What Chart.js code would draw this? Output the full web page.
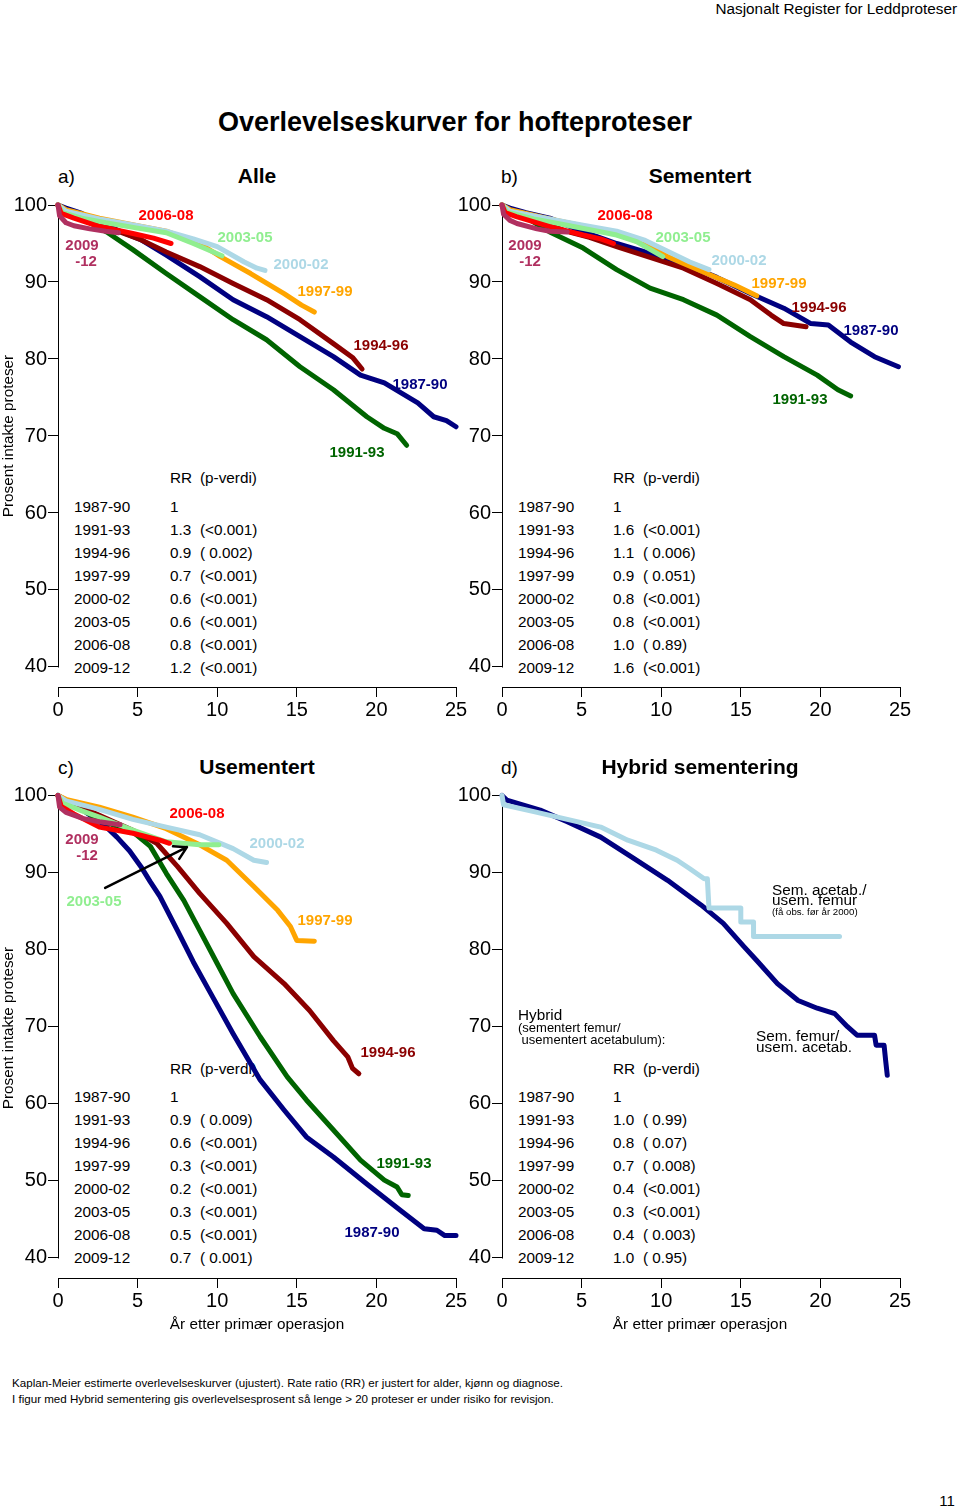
<!DOCTYPE html>
<html><head><meta charset="utf-8">
<script src="https://cdn.jsdelivr.net/npm/chart.js@4/dist/chart.umd.min.js"></script>
<style>
html,body{margin:0;padding:0;background:#fff}
body{width:960px;height:1508px;position:relative;overflow:hidden;font-family:"Liberation Sans",Arial,Helvetica,sans-serif}
canvas{position:absolute;z-index:1}
.t{position:absolute;white-space:pre;line-height:1;color:#000;z-index:2}
.t.under{z-index:0}
</style></head><body>
<script>
// ---------- data ----------
const X_TICKS = [0, 5, 10, 15, 20, 25];
const Y_TICKS = [40, 50, 60, 70, 80, 90, 100];
const PERIODS = ['1987-90','1991-93','1994-96','1997-99','2000-02','2003-05','2006-08','2009-12'];
const COLORS  = ['#000080','#006400','#8B0000','#FFA500','#ADD8E6','#90EE90','#FF0000','#B03060'];

// a) Alle
const A_8790 = [[0,100],[0.5,99.6],[1.5,98.9],[2.6,97.8],[4,96.5],[5.2,95.5],[6.8,93.5],[8.9,90.7],[11,87.7],[13.1,85.5],[15.2,82.9],[17.3,80.3],[19,77.9],[20.5,76.9],[22.6,74.3],[23.6,72.5],[24.4,72.0],[25,71.2]];
const A_9193 = [[0,100],[0.5,99.3],[1.5,98.3],[3.06,96.5],[4.7,94.2],[6.8,91.1],[8.9,88.1],[11,85.1],[13.1,82.5],[15.2,79],[17.3,76],[19.4,72.5],[20.5,71],[21.3,70.3],[21.9,68.8]];
const A_9496 = [[0,100],[0.5,99.3],[2,98],[3.5,96.8],[5.2,95.5],[6.8,93.9],[8.9,92],[11,89.8],[13.1,87.7],[15.2,85.1],[17.3,82],[18.5,80.2],[19.1,78.7]];
const A_9799 = [[0,100],[0.5,99.4],[2.6,98.3],[5,97.3],[6.8,96.6],[8.9,95],[10.2,93.3],[12.1,91.1],[14.2,88.5],[15.3,87],[16.1,86.1]];
const A_0002 = [[0,100],[0.5,99.2],[2.6,98.2],[5,97.3],[6.8,96.6],[8.5,95.6],[10,94.6],[11.7,92.6],[12.5,91.8],[13,91.5]];
const A_0305 = [[0,100],[0.3,99.0],[1.5,98.3],[3,97.7],[5,97],[6.8,96.4],[8.5,95],[10.3,93.4]];
const A_0608 = [[0,100],[0.2,98.9],[1,98.3],[2.6,97.2],[4.7,96.3],[6,95.7],[7.1,95.0]];
const A_0912 = [[0,100],[0.1,98.6],[0.5,97.7],[1,97.3],[2,96.9],[3,96.6],[3.8,96.4]];

// b) Sementert
const B_8790 = [[0,100],[0.5,99.6],[1.5,99],[3,98.3],[5,96.6],[7.2,95],[9.3,93.7],[11.4,92.4],[13.5,90.6],[15.6,88.5],[17.7,86.6],[19.4,84.6],[20.5,84.4],[21.9,82.2],[23.4,80.3],[24.9,79.0]];
const B_9193 = [[0,100],[0.5,99.3],[1.5,98.4],[3,96.5],[5.1,94.4],[7.2,91.6],[9.3,89.2],[11.4,87.7],[13.5,85.7],[15.6,82.9],[17.7,80.3],[19.8,77.9],[21.1,76.0],[21.9,75.2]];
const B_9496 = [[0,100],[0.5,99.3],[2,98.2],[4,96.6],[5.5,95.8],[7.2,94.6],[9.3,93.2],[11.4,91.8],[13.5,89.8],[15.6,87.7],[16.9,85.7],[17.7,84.6],[19.1,84.2]];
const B_9799 = [[0,100],[0.5,99.4],[3,98.2],[5,97.3],[7.2,96.3],[9.3,94.6],[10.4,93.3],[13.1,90.9],[14.6,89.6],[16,88.2]];
const B_0002 = [[0,100],[0.5,99.2],[3,98.2],[5,97.4],[7.2,96.6],[9,95.4],[10.4,94.0],[11.8,92.6],[13,91.6]];
const B_0305 = [[0,100],[0.3,99.1],[2,98.2],[4,97.4],[7.2,96.1],[8.5,95.2],[10.1,93.3]];
const B_0608 = [[0,100],[0.2,99],[0.9,98.5],[3,97.2],[5.1,96.1],[6.2,95.6],[7,95.0]];
const B_0912 = [[0,100],[0.1,98.8],[0.5,98],[0.94,97.6],[2.2,96.9],[3,96.6],[4.1,96.5]];

// c) Usementert
const C_8790 = [[0,100],[0.55,99],[1.5,98.2],[2.2,97.2],[3,96],[3.7,94.6],[4.5,92.8],[5.2,90.8],[5.8,88.8],[6.4,86.9],[7.5,82.5],[8.5,78.4],[9.6,74.3],[11,69.1],[12.7,63.1],[14.2,59.2],[15.6,55.7],[17.3,53.1],[19.4,49.6],[21.5,46.2],[23,43.8],[23.8,43.6],[24.3,42.9],[25,42.9]];
const C_9193 = [[0,100],[0.5,99.2],[1.5,98.2],[2.6,96.8],[4.7,95.3],[5.8,93.4],[6.8,89.9],[7.9,86.4],[8.9,82.5],[10,78.2],[11,74.3],[12.7,68.7],[14.4,63.5],[15.6,60.5],[17.3,56.6],[19,52.7],[20.5,50.1],[21.3,49.2],[21.6,48.2],[22,48.1]];
const C_9496 = [[0,100],[0.5,99.4],[2,98],[3.5,96.6],[4.7,95.5],[6.2,93.8],[7.5,90.8],[8.9,87.3],[10.6,83.4],[12.3,79.1],[14.2,75.6],[15.8,72.1],[17.3,68.2],[18.2,66.1],[18.5,64.6],[18.9,63.9]];
const C_9799 = [[0,100],[0.5,99.5],[2.6,98.5],[4.7,97.2],[6.8,95.7],[8.9,93.6],[10.6,91.6],[12.3,88.2],[13.8,85.1],[14.6,83.0],[15,81.2],[16.1,81.1]];
const C_0002 = [[0,100],[0.5,99.3],[2.6,98.2],[4.7,96.9],[6.8,95.9],[8.9,94.9],[11,93.1],[12.3,91.6],[13.1,91.3]];
const C_0305 = [[0,100],[0.3,99],[1.5,98],[2.6,97.2],[4.7,95.5],[6.8,94],[8.9,93.6],[10.1,93.6]];
const C_0608 = [[0,100],[0.2,98.6],[1,97.6],[2.6,95.9],[4.7,95.1],[6.4,94.2],[7,93.8]];
const C_0912 = [[0,100],[0.1,98.5],[0.5,97.8],[1.6,97],[2.6,96.6],[3.9,96.2]];

// d) Hybrid sementering
const D_SEMFEM = [[0,100],[0.3,99.4],[2.4,98.1],[4.1,96.6],[6.2,94.6],[8.3,91.8],[10.4,89],[12.5,85.8],[13.9,83.4],[15.2,80.4],[16,78.6],[17.3,75.6],[18.6,73.4],[19.8,72.4],[20.9,71.7],[21.7,70],[22.3,68.9],[23.4,68.9],[23.5,67.6],[24.0,67.6],[24.1,65.6],[24.2,63.7]];
const D_SEMACE = [[0,100],[0.1,98.8],[2,97.9],[3.9,97],[6.2,95.9],[7.9,94.2],[9.7,92.9],[11,91.6],[11.8,90.5],[12.7,89.2],[12.9,89.2],[13.0,85.4],[15.0,85.4],[15.0,83.6],[15.8,83.6],[15.8,81.7],[21.2,81.7]];
const D_NAMES = ['Sem. femur/usem. acetab.','Sem. acetab./usem. femur'];
const D_COLORS = ['#000080','#ADD8E6'];

// RR tables
const RR_A = ['1','1.3','0.9','0.7','0.6','0.6','0.8','1.2'];
const P_A  = ['','(<0.001)','( 0.002)','(<0.001)','(<0.001)','(<0.001)','(<0.001)','(<0.001)'];
const RR_B = ['1','1.6','1.1','0.9','0.8','0.8','1.0','1.6'];
const P_B  = ['','(<0.001)','( 0.006)','( 0.051)','(<0.001)','(<0.001)','( 0.89)','(<0.001)'];
const RR_C = ['1','0.9','0.6','0.3','0.2','0.3','0.5','0.7'];
const P_C  = ['','( 0.009)','(<0.001)','(<0.001)','(<0.001)','(<0.001)','(<0.001)','( 0.001)'];
const RR_D = ['1','1.0','0.8','0.7','0.4','0.3','0.4','1.0'];
const P_D  = ['','( 0.99)','( 0.07)','( 0.008)','(<0.001)','(<0.001)','( 0.003)','( 0.95)'];

const ARROW_C = [[2.96, 88.0], [8.1, 93.3]];

// ---------- chart ----------
Chart.defaults.font.family = "'Liberation Sans', Arial, Helvetica, sans-serif";
Chart.defaults.color = '#000';

function curveSets(list, names, colors){
  return list.map((pts, i) => ({
    label: names[i],
    data: pts.map(p => ({x: p[0], y: p[1]})),
    borderColor: colors[i], backgroundColor: colors[i],
    borderWidth: 5, pointRadius: 0, tension: 0, fill: false, clip: false,
    borderCapStyle: 'round', borderJoinStyle: 'round',
    order: list.length - i
  }));
}

const yAxisLine = {
  id: 'yAxisLine',
  beforeDatasetsDraw(chart){
    const ys = chart.scales.y, ctx = chart.ctx;
    const x = Math.round(chart.chartArea.left) + 0.5;
    ctx.save(); ctx.strokeStyle = '#000'; ctx.lineWidth = 1;
    ctx.beginPath(); ctx.moveTo(x, Math.round(ys.getPixelForValue(Y_TICKS[0])) + 0.5);
    ctx.lineTo(x, Math.round(ys.getPixelForValue(Y_TICKS[Y_TICKS.length-1])) + 0.5);
    ctx.stroke(); ctx.restore();
  }
};

function arrowPlugin(a){
  return { id: 'arrow', afterDatasetsDraw(chart){
    const xs = chart.scales.x, ys = chart.scales.y, ctx = chart.ctx;
    const x1 = xs.getPixelForValue(a[0][0]), y1 = ys.getPixelForValue(a[0][1]);
    const x2 = xs.getPixelForValue(a[1][0]), y2 = ys.getPixelForValue(a[1][1]);
    const ang = Math.atan2(y2 - y1, x2 - x1), L = 14;
    ctx.save(); ctx.strokeStyle = '#000'; ctx.lineWidth = 2.5; ctx.lineCap = 'round';
    ctx.beginPath(); ctx.moveTo(x1, y1); ctx.lineTo(x2, y2);
    for (const d of [-Math.PI/6, Math.PI/6]) { ctx.moveTo(x2, y2); ctx.lineTo(x2 - L*Math.cos(ang + d), y2 - L*Math.sin(ang + d)); }
    ctx.stroke(); ctx.restore();
  }};
}

function panel(left, top, padTop, datasets, extraPlugins){
  const cv = document.createElement('canvas');
  cv.width = 480; cv.height = 540;
  cv.style.left = left + 'px'; cv.style.top = top + 'px';
  cv.style.width = '480px'; cv.style.height = '540px';
  document.body.appendChild(cv);
  new Chart(cv, {
    type: 'line',
    data: { datasets },
    options: {
      responsive: false, animation: false, devicePixelRatio: 1,
      layout: { padding: { left: 0, top: padTop, right: 24, bottom: 0 } },
      plugins: { legend: { display: false }, tooltip: { enabled: false } },
      scales: {
        x: {
          type: 'linear', min: 0, max: 25,
          afterBuildTicks: s => { s.ticks = X_TICKS.map(v => ({value: v})); },
          afterFit: s => { s.height = 43; },
          grid: { drawOnChartArea: false, drawTicks: true, tickLength: 10, color: '#000', lineWidth: 1 },
          border: { display: true, color: '#000', width: 1 },
          ticks: { color: '#000', font: { size: 20 }, padding: 1, maxRotation: 0, autoSkip: false }
        },
        y: {
          type: 'linear', min: 37.4, max: 100,
          afterBuildTicks: s => { s.ticks = Y_TICKS.map(v => ({value: v})); },
          afterFit: s => { s.width = 58; },
          grid: { drawOnChartArea: false, drawTicks: true, tickLength: 10, color: '#000', lineWidth: 1 },
          border: { display: false },
          ticks: { color: '#000', font: { size: 20 }, padding: 1, autoSkip: false }
        }
      }
    },
    plugins: [yAxisLine].concat(extraPlugins || [])
  });
}

panel(0,   190, 15,   curveSets([A_8790,A_9193,A_9496,A_9799,A_0002,A_0305,A_0608,A_0912], PERIODS, COLORS));
panel(444, 190, 15,   curveSets([B_8790,B_9193,B_9496,B_9799,B_0002,B_0305,B_0608,B_0912], PERIODS, COLORS));
panel(0,   781, 14.5, curveSets([C_8790,C_9193,C_9496,C_9799,C_0002,C_0305,C_0608,C_0912], PERIODS, COLORS), [arrowPlugin(ARROW_C)]);
panel(444, 781, 14.5, curveSets([D_SEMFEM, D_SEMACE], D_NAMES, D_COLORS));

// ---------- text ----------
function T(txt, x, y, o){
  o = o || {};
  const d = document.createElement('div'); d.className = 't' + (o.under ? ' under' : ''); d.textContent = txt;
  const s = d.style; s.left = x + 'px'; s.top = y + 'px';
  s.fontSize = (o.size || 15.3) + 'px';
  if (o.bold) s.fontWeight = 'bold';
  if (o.color) s.color = o.color;
  const ax = o.anchor === 'left' ? '0' : (o.anchor === 'right' ? '-100%' : '-50%');
  s.transform = 'translate(' + ax + ',-50%)' + (o.rot ? ' rotate(' + o.rot + 'deg)' : '');
  document.body.appendChild(d);
}

T('Nasjonalt Register for Leddproteser', 957, 9, {size: 15.3, anchor: 'right'});
T('Overlevelseskurver for hofteproteser', 455, 122, {size: 27, bold: true});

T('a)', 58, 176, {size: 19, anchor: 'left'});
T('Alle', 257, 175, {size: 21, bold: true});
T('b)', 501, 176, {size: 19, anchor: 'left'});
T('Sementert', 700, 175, {size: 21, bold: true});
T('c)', 58, 767, {size: 19, anchor: 'left'});
T('Usementert', 257, 766, {size: 21, bold: true});
T('d)', 501, 767, {size: 19, anchor: 'left'});
T('Hybrid sementering', 700, 766, {size: 21, bold: true});

T('Prosent intakte proteser', 8, 436, {size: 15.3, rot: -90});
T('Prosent intakte proteser', 8, 1028, {size: 15.3, rot: -90});
T('År etter primær operasjon', 257, 1324, {size: 15.3});
T('År etter primær operasjon', 700, 1324, {size: 15.3});

function table(x0, xr, xp, yh, y0, rr, pv){
  const u = {anchor: 'left', under: true};
  T('RR', xr, yh, u);
  T('(p-verdi)', xp, yh, u);
  PERIODS.forEach((p, i) => {
    const y = y0 + 23.05 * i;
    T(p, x0, y, u);
    T(rr[i], xr, y, u);
    if (pv[i]) T(pv[i], xp, y, u);
  });
}
table(74, 170, 200, 478, 506.7, RR_A, P_A);
table(518, 613, 643, 478, 506.7, RR_B, P_B);
table(74, 170, 200, 1068.5, 1096.7, RR_C, P_C);
table(518, 613, 643, 1069, 1096.7, RR_D, P_D);

// curve labels
const LB = {size: 15, bold: true};
function L(txt, x, y, c){ T(txt, x, y, Object.assign({color: c}, LB)); }
// a
L('2006-08', 166, 214, COLORS[6]); L('2003-05', 245, 236, COLORS[5]); L('2000-02', 301, 263, COLORS[4]);
L('1997-99', 325, 290, COLORS[3]); L('1994-96', 381, 344, COLORS[2]); L('1987-90', 420, 383, COLORS[0]);
L('1991-93', 357, 451, COLORS[1]); L('2009', 82, 244, COLORS[7]); L('-12', 86, 260, COLORS[7]);
// b
L('2006-08', 625, 214, COLORS[6]); L('2003-05', 683, 236, COLORS[5]); L('2000-02', 739, 259, COLORS[4]);
L('1997-99', 779, 282, COLORS[3]); L('1994-96', 819, 306, COLORS[2]); L('1987-90', 871, 329, COLORS[0]);
L('1991-93', 800, 398, COLORS[1]); L('2009', 525, 244, COLORS[7]); L('-12', 530, 260, COLORS[7]);
// c
L('2006-08', 197, 812, COLORS[6]); L('2000-02', 277, 842, COLORS[4]); L('1997-99', 325, 919, COLORS[3]);
L('1994-96', 388, 1051, COLORS[2]); L('1991-93', 404, 1162, COLORS[1]); L('1987-90', 372, 1231, COLORS[0]);
L('2003-05', 94, 900, COLORS[5]); L('2009', 82, 838, COLORS[7]); L('-12', 87, 854, COLORS[7]);
// d
T('Sem. acetab./', 772, 889.5, {size: 15.3, anchor: 'left'});
T('usem. femur', 772, 900, {size: 15.3, anchor: 'left'});
T('(få obs. før år 2000)', 772, 912, {size: 9.7, anchor: 'left'});
T('Hybrid', 518, 1015, {size: 15.3, anchor: 'left'});
T('(sementert femur/', 518, 1027, {size: 13, anchor: 'left'});
T(' usementert acetabulum):', 518, 1038.5, {size: 13, anchor: 'left'});
T('Sem. femur/', 756, 1035.5, {size: 15.3, anchor: 'left'});
T('usem. acetab.', 756, 1046.5, {size: 15.3, anchor: 'left'});

// footnotes
T('Kaplan-Meier estimerte overlevelseskurver (ujustert). Rate ratio (RR) er justert for alder, kjønn og diagnose.', 12, 1383, {size: 11.6, anchor: 'left'});
T('I figur med Hybrid sementering gis overlevelsesprosent så lenge > 20 proteser er under risiko for revisjon.', 12, 1399, {size: 11.6, anchor: 'left'});
T('11', 947, 1500, {size: 15});
</script>
</body></html>
